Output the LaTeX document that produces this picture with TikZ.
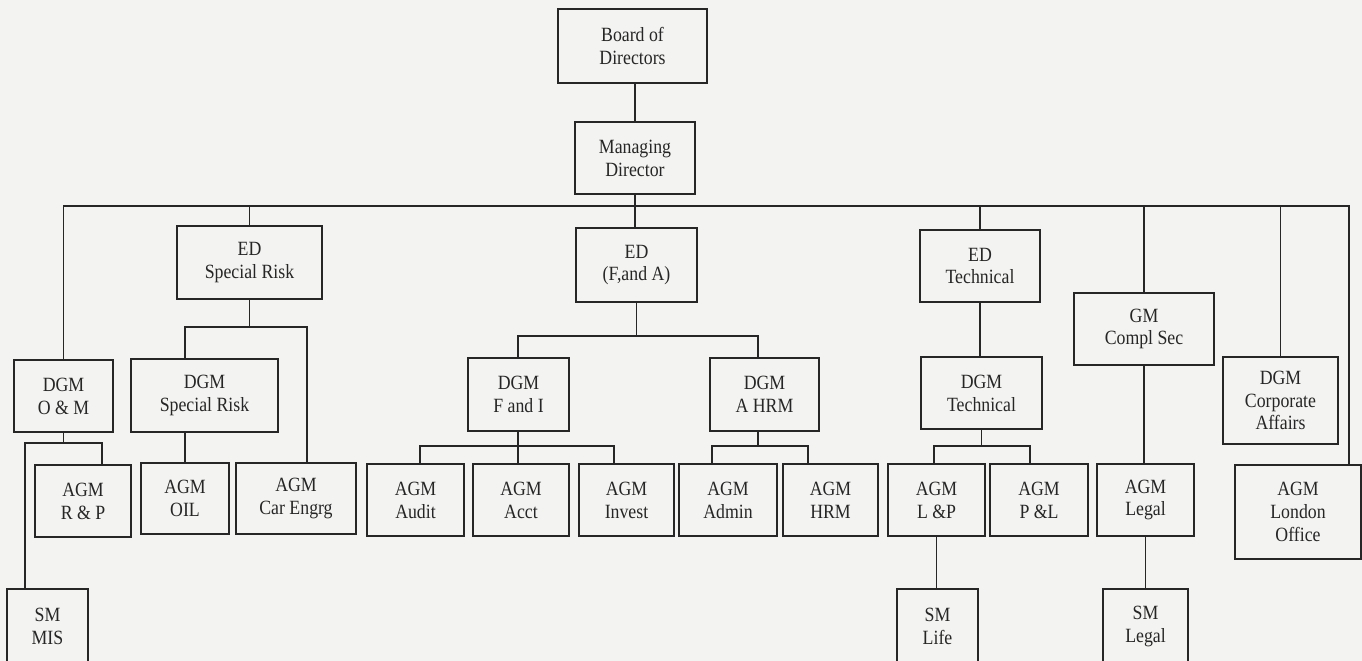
\documentclass[tikz,border=0pt]{standalone}
\usepackage{fontspec}
\setmainfont{Liberation Serif}[FakeStretch=0.88]
\definecolor{bgc}{HTML}{F3F3F1}
\definecolor{ink}{HTML}{262626}
\tikzset{
  box/.style={draw=ink, line width=1pt, inner sep=0pt, align=center, text=ink,
    font=\fontsize{11.5}{13}\selectfont},
  conn/.style={draw=ink, line width=1pt}
}
\newcommand\bx[6]{\node[box, minimum width={(#4-#2)*0.02cm}, minimum height={(#5-#3)*0.02cm}] (#1) at ({(#2+#4)/2},{(#3+#5)/2}) {#6};}
\begin{document}
\begin{tikzpicture}[x=0.02cm, y=-0.02cm]
\useasboundingbox (0,0) rectangle (1362,661);
\clip (0,0) rectangle (1362,661);
\fill[bgc] (0,0) rectangle (1362,661);

\bx{board}{558}{9}{707}{83}{Board of\\Directors}
\bx{md}{575}{122}{695}{194}{Managing\\Director}
\bx{edsr}{177}{226}{322}{299}{ED\\Special Risk}
\bx{edfa}{576}{228}{697}{302}{ED\\(F,and A)}
\bx{edtech}{920}{230}{1040}{302}{ED\\Technical}
\bx{gm}{1074}{293}{1214}{365}{GM\\Compl Sec}
\bx{corp}{1223}{357}{1338}{444}{DGM\\Corporate\\Affairs}
\bx{london}{1235}{465}{1361}{559}{AGM\\London\\Office}
\bx{omm}{14}{360}{113}{432}{DGM\\O \& M}
\bx{dgmsr}{131}{359}{278}{432}{DGM\\Special Risk}
\bx{fi}{468}{358}{569}{431}{DGM\\F and I}
\bx{ahrm}{710}{358}{819}{431}{DGM\\A HRM}
\bx{dgmtech}{921}{357}{1042}{429}{DGM\\Technical}
\bx{rp}{35}{465}{131}{537}{AGM\\R \& P}
\bx{oil}{141}{463}{229}{534}{AGM\\OIL}
\bx{car}{236}{463}{356}{534}{AGM\\Car Engrg}
\bx{audit}{367}{464}{464}{536}{AGM\\Audit}
\bx{acct}{473}{464}{569}{536}{AGM\\Acct}
\bx{invest}{579}{464}{674}{536}{AGM\\Invest}
\bx{admin}{679}{464}{777}{536}{AGM\\Admin}
\bx{hrm}{783}{464}{878}{536}{AGM\\HRM}
\bx{lp}{888}{464}{985}{536}{AGM\\L \&P}
\bx{pl}{990}{464}{1088}{536}{AGM\\P \&L}
\bx{legal}{1097}{464}{1194}{536}{AGM\\Legal}
\bx{mis}{7}{589}{88}{664}{SM\\MIS}
\bx{life}{897}{589}{978}{664}{SM\\Life}
\bx{smlegal}{1103}{589}{1188}{664}{SM\\Legal}

% top spine and bus
\coordinate (busR) at (1349,206);
\draw[conn] (board.south -| md.north) -- (md.north);
\draw[conn] (md.south) -- (md.south |- edfa.north);
\draw[conn] (omm.north) |- (busR) -- (busR |- london.north);
\draw[conn] (edsr.north) -- (edsr.north |- busR);
\draw[conn] (edtech.north) -- (edtech.north |- busR);
\draw[conn] (gm.north) -- (gm.north |- busR);
\draw[conn] (corp.north) -- (corp.north |- busR);

% ED Special Risk
\coordinate (j1) at (185,327);
\coordinate (j2) at (307,327);
\draw[conn] (edsr.south) -- (edsr.south |- j1);
\draw[conn] (dgmsr.north -| j1) -- (j1) -- (j2) -- (j2 |- car.north);
\draw[conn] (dgmsr.south -| j1) -- (j1 |- oil.north);

% DGM O & M
\coordinate (k1) at (25,443);
\coordinate (k2) at (102,443);
\draw[conn] (omm.south) -- (omm.south |- k1);
\draw[conn] (mis.north -| k1) -- (k1) -- (k2) -- (k2 |- rp.north);

% ED F and A
\coordinate (m1) at (518,336);
\coordinate (m2) at (758,336);
\draw[conn] (edfa.south) -- (edfa.south |- m1);
\draw[conn] (fi.north -| m1) -- (m1) -- (m2) -- (ahrm.north -| m2);
\coordinate (n1) at (420,446);
\coordinate (n2) at (614,446);
\draw[conn] (fi.south -| m1) -- (m1 |- n1);
\draw[conn] (audit.north -| n1) -- (n1) -- (n2) -- (invest.north -| n2);
\draw[conn] (m1 |- n1) -- (acct.north -| m1);
\coordinate (p1) at (712,446);
\coordinate (p2) at (808,446);
\draw[conn] (ahrm.south -| m2) -- (m2 |- p1);
\draw[conn] (admin.north -| p1) -- (p1) -- (p2) -- (hrm.north -| p2);

% ED Technical
\draw[conn] (edtech.south) -- (edtech.south |- dgmtech.north);
\coordinate (q1) at (934,446);
\coordinate (q2) at (1030,446);
\draw[conn] (dgmtech.south) -- (dgmtech.south |- q1);
\draw[conn] (lp.north -| q1) -- (q1) -- (q2) -- (pl.north -| q2);
\draw[conn] (lp.south) -- (lp.south |- life.north);

% GM Compl Sec
\draw[conn] (gm.south) -- (gm.south |- legal.north);
\draw[conn] (legal.south) -- (legal.south |- smlegal.north);
\end{tikzpicture}
\end{document}
